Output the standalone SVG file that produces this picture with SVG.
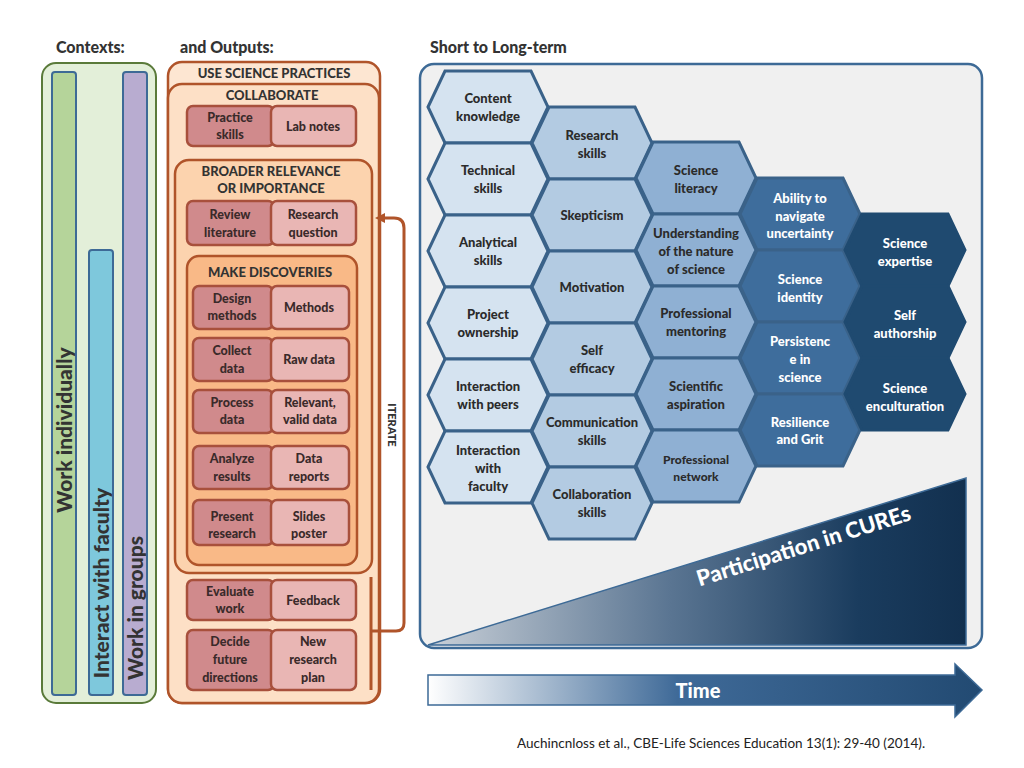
<svg xmlns="http://www.w3.org/2000/svg" width="1024" height="768" viewBox="0 0 1024 768">
<style>
text{font-family:Lato,"Open Sans","Liberation Sans",sans-serif;font-weight:900;text-anchor:middle}
.h{font-size:16px;fill:#333;text-anchor:start}
.o{font-size:12.5px;fill:#3a2a2a}
.ob{font-size:13px;fill:#333}
.hx{stroke:#3a6289;stroke-width:3}
.ht{font-size:13px;fill:#2b2b2b}
.hw{font-size:13px;fill:#fff}
.dk{fill:#d08a8c;stroke:#a8503c;stroke-width:2.5}
.lt{fill:#e9b6b4;stroke:#a8503c;stroke-width:2.5}
</style>
<defs>
<polygon id="hex" points="-60,0 -43,-36 43,-36 60,0 43,36 -43,36"/>
<linearGradient id="tri" x1="0" x2="1"><stop offset="0" stop-color="#c9d0d8"/><stop offset="0.45" stop-color="#5a7592"/><stop offset="0.8" stop-color="#1a3c5e"/><stop offset="1" stop-color="#12304f"/></linearGradient>
<linearGradient id="tm" x1="0" x2="1"><stop offset="0" stop-color="#ffffff"/><stop offset="0.45" stop-color="#3f6a98"/><stop offset="1" stop-color="#224a72"/></linearGradient>
<marker id="ah" markerWidth="10" markerHeight="10" refX="5" refY="5" orient="auto" markerUnits="userSpaceOnUse" viewBox="0 0 10 10"><path d="M0,0 L10,5 L0,10 Z" fill="#b0542a"/></marker>
</defs>
<rect width="1024" height="768" fill="#fff"/>
<text class="h" x="56" y="53">Contexts:</text>
<text class="h" x="180" y="53">and Outputs:</text>
<text class="h" x="430" y="53">Short to Long-term</text>

<g id="contexts">
<rect x="42" y="63" width="114" height="640" rx="14" fill="#e3efd9" stroke="#5a7a3a" stroke-width="2"/>
<rect x="52" y="72" width="24" height="623" rx="3" fill="#b5d49a" stroke="#3d6a96" stroke-width="2"/>
<rect x="89" y="250" width="24" height="445" rx="3" fill="#7ec8dc" stroke="#3d6a96" stroke-width="2"/>
<rect x="123" y="72" width="24" height="623" rx="3" fill="#b8acd0" stroke="#3d6a96" stroke-width="2"/>
<text transform="translate(72,430) rotate(-90)" style="font-size:21px;fill:#333">Work individually</text>
<text transform="translate(109,583) rotate(-90)" style="font-size:21px;fill:#333">Interact  with faculty</text>
<text transform="translate(143,608) rotate(-90)" style="font-size:21px;fill:#333">Work in groups</text>
</g>

<g id="outputs">
<rect x="168" y="62" width="212" height="641" rx="14" fill="#fde6d2" stroke="#b0542a" stroke-width="2.5"/>
<text class="ob" x="274" y="78">USE SCIENCE PRACTICES</text>
<rect x="168" y="84" width="211" height="619" rx="14" fill="#fde0c6" stroke="#b0542a" stroke-width="2.5"/>
<text class="ob" x="272" y="100">COLLABORATE</text>
<rect x="187" y="106" width="87" height="40" rx="6" class="dk"/><rect x="271" y="106" width="85" height="40" rx="6" class="lt"/>
<text class="o" x="230" y="122">Practice</text><text class="o" x="230" y="139">skills</text>
<text class="o" x="313" y="131">Lab notes</text>
<rect x="175" y="160" width="197" height="413" rx="14" fill="#fcd3ae" stroke="#b0542a" stroke-width="2.5"/>
<text class="ob" x="271" y="176">BROADER RELEVANCE</text>
<text class="ob" x="271" y="193">OR IMPORTANCE</text>
<rect x="187" y="201" width="87" height="44" rx="6" class="dk"/><rect x="271" y="201" width="85" height="44" rx="6" class="lt"/>
<text class="o" x="230" y="219">Review</text><text class="o" x="230" y="237">literature</text>
<text class="o" x="313" y="219">Research</text><text class="o" x="313" y="237">question</text>
<rect x="187" y="256" width="170" height="309" rx="12" fill="#f9b987" stroke="#b0542a" stroke-width="2.5"/>
<text class="ob" x="270" y="277">MAKE DISCOVERIES</text>
<rect x="193" y="286" width="80" height="43" rx="6" class="dk"/><rect x="271" y="286" width="78" height="43" rx="6" class="lt"/>
<text class="o" x="232" y="303">Design</text><text class="o" x="232" y="320">methods</text><text class="o" x="309" y="312">Methods</text>
<rect x="193" y="338" width="80" height="43" rx="6" class="dk"/><rect x="271" y="338" width="78" height="43" rx="6" class="lt"/>
<text class="o" x="232" y="355">Collect</text><text class="o" x="232" y="373">data</text><text class="o" x="309" y="364">Raw data</text>
<rect x="193" y="390" width="80" height="43" rx="6" class="dk"/><rect x="271" y="390" width="78" height="43" rx="6" class="lt"/>
<text class="o" x="232" y="407">Process</text><text class="o" x="232" y="424">data</text>
<text class="o" x="310" y="407">Relevant,</text><text class="o" x="310" y="424">valid data</text>
<rect x="193" y="446" width="80" height="43" rx="6" class="dk"/><rect x="271" y="446" width="78" height="43" rx="6" class="lt"/>
<text class="o" x="232" y="463">Analyze</text><text class="o" x="232" y="481">results</text>
<text class="o" x="309" y="463">Data</text><text class="o" x="309" y="481">reports</text>
<rect x="193" y="500" width="80" height="45" rx="6" class="dk"/><rect x="271" y="500" width="78" height="45" rx="6" class="lt"/>
<text class="o" x="232" y="521">Present</text><text class="o" x="232" y="538">research</text>
<text class="o" x="309" y="521">Slides</text><text class="o" x="309" y="538">poster</text>
<rect x="187" y="580" width="87" height="40" rx="6" class="dk"/><rect x="271" y="580" width="85" height="40" rx="6" class="lt"/>
<text class="o" x="230" y="596">Evaluate</text><text class="o" x="230" y="613">work</text>
<text class="o" x="313" y="605">Feedback</text>
<rect x="187" y="630" width="87" height="60" rx="6" class="dk"/><rect x="271" y="630" width="85" height="60" rx="6" class="lt"/>
<text class="o" x="230" y="646">Decide</text><text class="o" x="230" y="664">future</text><text class="o" x="230" y="682">directions</text>
<text class="o" x="313" y="646">New</text><text class="o" x="313" y="664">research</text><text class="o" x="313" y="682">plan</text>
</g>

<g id="connectors">
<line x1="371" y1="577" x2="371" y2="690" stroke="#b0542a" stroke-width="3"/>
<path d="M371,631 H396 Q404,631 404,623 V228 Q404,218 394,218 H380" fill="none" stroke="#b0542a" stroke-width="3" marker-end="url(#ah)"/>
<text transform="translate(388,425) rotate(90)" style="font-size:11px;fill:#333">ITERATE</text>
</g>

<g id="panel">
<rect x="420" y="64" width="562" height="584" rx="14" fill="#f0f0f0" stroke="#3d6a96" stroke-width="2.5"/>
<polygon points="428,645 966,478 966,645" fill="url(#tri)" stroke="#3d6a96" stroke-width="1.5"/>
<text transform="translate(806,553) rotate(-17.5)" style="font-size:22px;fill:#fff">Participation in CUREs</text>
</g>

<g id="hexes">
<g fill="#d5e3f0" class="hx">
<use href="#hex" x="488" y="107"/><use href="#hex" x="488" y="179"/><use href="#hex" x="488" y="251"/><use href="#hex" x="488" y="323"/><use href="#hex" x="488" y="395"/><use href="#hex" x="488" y="467"/>
</g>
<g fill="#b3cbe2" class="hx">
<use href="#hex" x="592" y="143"/><use href="#hex" x="592" y="215"/><use href="#hex" x="592" y="287"/><use href="#hex" x="592" y="359"/><use href="#hex" x="592" y="431"/><use href="#hex" x="592" y="503"/>
</g>
<g fill="#8fb0d3" class="hx">
<use href="#hex" x="696" y="178"/><use href="#hex" x="696" y="250"/><use href="#hex" x="696" y="322"/><use href="#hex" x="696" y="394"/><use href="#hex" x="696" y="466"/>
</g>
<g fill="#3e6d9c" class="hx">
<use href="#hex" x="800" y="214"/><use href="#hex" x="800" y="286"/><use href="#hex" x="800" y="358"/><use href="#hex" x="800" y="430"/>
</g>
<g fill="#1f4a70" stroke="#1f4a70" stroke-width="3">
<use href="#hex" x="905" y="250"/><use href="#hex" x="905" y="322"/><use href="#hex" x="905" y="394"/>
</g>
</g>
<g id="hexlabels">
<text class="ht" x="488" y="103">Content</text><text class="ht" x="488" y="121">knowledge</text>
<text class="ht" x="488" y="175">Technical</text><text class="ht" x="488" y="193">skills</text>
<text class="ht" x="488" y="247">Analytical</text><text class="ht" x="488" y="265">skills</text>
<text class="ht" x="488" y="319">Project</text><text class="ht" x="488" y="337">ownership</text>
<text class="ht" x="488" y="391">Interaction</text><text class="ht" x="488" y="409">with peers</text>
<text class="ht" x="488" y="455">Interaction</text><text class="ht" x="488" y="473">with</text><text class="ht" x="488" y="491">faculty</text>
<text class="ht" x="592" y="140">Research</text><text class="ht" x="592" y="158">skills</text>
<text class="ht" x="592" y="220">Skepticism</text>
<text class="ht" x="592" y="292">Motivation</text>
<text class="ht" x="592" y="355">Self</text><text class="ht" x="592" y="373">efficacy</text>
<text class="ht" x="592" y="427">Communication</text><text class="ht" x="592" y="445">skills</text>
<text class="ht" x="592" y="499">Collaboration</text><text class="ht" x="592" y="517">skills</text>
<text class="ht" x="696" y="175">Science</text><text class="ht" x="696" y="193">literacy</text>
<text class="ht" x="696" y="238">Understanding</text><text class="ht" x="696" y="256">of the nature</text><text class="ht" x="696" y="274">of science</text>
<text class="ht" x="696" y="318">Professional</text><text class="ht" x="696" y="336">mentoring</text>
<text class="ht" x="696" y="391">Scientific</text><text class="ht" x="696" y="409">aspiration</text>
<text class="ht" x="696" y="464" style="font-size:12px">Professional</text><text class="ht" x="696" y="481" style="font-size:12px">network</text>
<text class="hw" x="800" y="203">Ability to</text><text class="hw" x="800" y="221">navigate</text><text class="hw" x="800" y="238">uncertainty</text>
<text class="hw" x="800" y="284">Science</text><text class="hw" x="800" y="302">identity</text>
<text class="hw" x="800" y="346">Persistenc</text><text class="hw" x="800" y="364">e in</text><text class="hw" x="800" y="382">science</text>
<text class="hw" x="800" y="427">Resilience</text><text class="hw" x="800" y="444">and Grit</text>
<text class="hw" x="905" y="248">Science</text><text class="hw" x="905" y="266">expertise</text>
<text class="hw" x="905" y="320">Self</text><text class="hw" x="905" y="338">authorship</text>
<text class="hw" x="905" y="393">Science</text><text class="hw" x="905" y="411">enculturation</text>
</g>

<g id="time">
<polygon points="428,675 955,675 955,664 982,690 955,717 955,705 428,705" fill="url(#tm)" stroke="#3d6a96" stroke-width="1.5"/>
<text x="698" y="698" style="font-size:20px;fill:#fff">Time</text>
</g>
<text x="517" y="748" style="font-size:13.5px;font-weight:normal;fill:#222;text-anchor:start">Auchincnloss et al., CBE-Life Sciences Education 13(1): 29-40 (2014).</text>
</svg>
